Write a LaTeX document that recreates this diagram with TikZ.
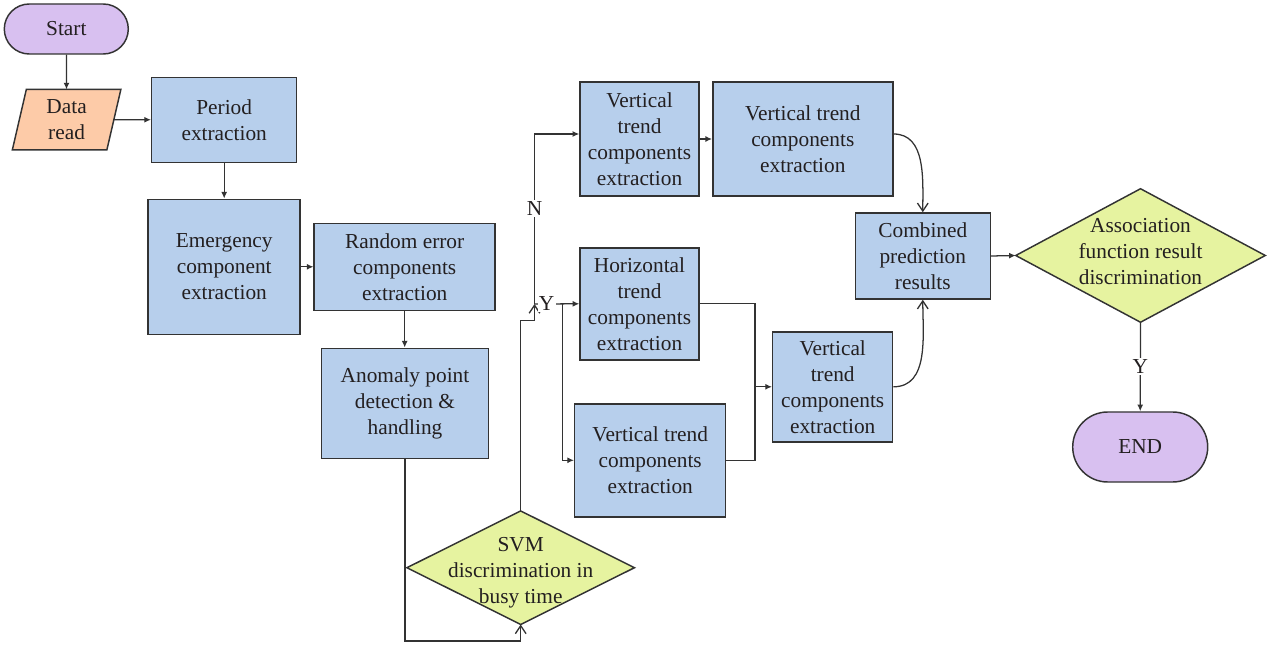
\documentclass[tikz,border=0pt]{standalone}
\usepackage{fontspec}
\setmainfont{Liberation Serif}
\usetikzlibrary{arrows.meta,backgrounds,calc}
\definecolor{boxblue}{HTML}{B7CFEC}
\definecolor{termpurple}{HTML}{D8C0F0}
\definecolor{ioorange}{HTML}{FDCBA8}
\definecolor{decyellow}{HTML}{E6F3A0}
\definecolor{linegray}{HTML}{333333}
\definecolor{textgray}{HTML}{231F20}
\tikzset{
  x=0.75pt, y=-0.75pt,
  sz/.style 2 args={minimum width=#1*0.75pt, minimum height=#2*0.75pt},
  txt/.style={inner sep=0pt, align=center, text=textgray, font=\fontsize{16}{19.5}\selectfont},
  pbox/.style={txt, draw=linegray, fill=boxblue, line width=1.1pt},
  term/.style={txt, draw=linegray, fill=termpurple, line width=1.1pt},
  plain/.style={txt},
  decshape/.style={draw=linegray, fill=decyellow, line width=1.1pt},
  ioshape/.style={draw=linegray, fill=ioorange, line width=1.1pt},
  conn/.style={draw=linegray, line width=0.95pt},
  tri/.style={conn, -{Latex[length=5pt,width=4.5pt]}},
  barb/.style={conn, -{Straight Barb[length=6pt,width=8pt,line width=1pt]}},
  lab/.style={fill=white, inner sep=1pt, text=textgray, font=\fontsize{16}{19.5}\selectfont},
}
\begin{document}
\begin{tikzpicture}
\useasboundingbox (0,0) rectangle (1267,648);

% nodes
\node[term, rounded corners=18.75pt, sz={124}{50}] (start) at (66.3,29) {Start};
\node[plain, sz={94}{60}] (data) at (66.6,119.7) {Data\\read};
\node[pbox, sz={145}{85}] (period) at (224.2,119.8) {Period\\extraction};
\node[pbox, sz={152}{135}] (emerg) at (224.2,266.8) {Emergency\\component\\extraction};
\node[pbox, sz={181}{87}] (rand) at (404.7,267.2) {Random error\\components\\extraction};
\node[pbox, sz={167}{110}] (anom) at (405,403.3) {Anomaly point\\detection \&\\handling};
\node[plain, sz={227}{113},
      label={[txt, yshift=-4pt]center:{SVM\\discrimination in\\busy time}}] (svm) at (520.7,567.7) {};
\node[pbox, sz={119}{114}] (v1) at (639.5,139) {Vertical\\trend\\components\\extraction};
\node[pbox, sz={180}{114}] (v2) at (802.8,139) {Vertical trend\\components\\extraction};
\node[pbox, sz={119}{112}] (hz) at (639.5,303.8) {Horizontal\\trend\\components\\extraction};
\node[pbox, sz={151}{113}] (vl) at (650.2,460.3) {Vertical trend\\components\\extraction};
\node[pbox, sz={120}{110}] (vr) at (832.7,386.8) {Vertical\\trend\\components\\extraction};
\node[pbox, sz={135}{86}] (comb) at (922.8,256) {Combined\\prediction\\results};
\node[plain, sz={249}{133},
      label={[txt, yshift=3pt]center:{Association\\function result\\discrimination}}] (assoc) at (1140.5,255.5) {};
\node[term, rounded corners=26.25pt, sz={135}{70}] (endn) at (1140.2,447) {END};

% shapes drawn behind texts
\begin{scope}[on background layer]
  \draw[ioshape] ($(data.north west)+(7,0)$) -- ($(data.north east)+(7,0)$)
     -- ($(data.south east)+(-7,0)$) -- ($(data.south west)+(-7,0)$) -- cycle;
  \draw[decshape] (svm.north) -- (svm.east) -- (svm.south) -- (svm.west) -- cycle;
  \draw[decshape] (assoc.north) -- (assoc.east) -- (assoc.south) -- (assoc.west) -- cycle;
\end{scope}

% helper coordinates
\coordinate (b1) at (462,641);
\coordinate (k1) at (527,320.3);
\coordinate (jct) at (534.5,304);
\coordinate (br) at (562.7,304);
\coordinate (mj) at (755,386.8);

% connectors
\draw[tri] (start) -- (data);
\draw[tri] (data) -- (period);
\draw[tri] (period) -- (emerg);
\draw[tri] (emerg.east) -- (rand.west |- emerg.east);
\draw[tri] (rand.south) -- (rand.south |- anom.north);
\draw[barb] (anom.south) |- (b1) -| (svm.south);
\draw[barb] (svm.north) |- (k1) -| (jct);
\draw[tri] (jct) |- node[lab, pos=0.28] {N} ($(v1.west)+(0,-5)$);
\draw[tri] (jct) -- node[lab, pos=0.27] {Y} (hz.west);
\draw[tri] (br) |- (vl.west);
\draw[tri] (v1) -- (v2);
\draw[conn] (hz.east) -| (mj);
\draw[conn] (vl.east) -| (mj);
\draw[tri] (mj) -- (vr.west);
\draw[barb] ($(v2.east)+(0,-5)$) to[out=0, in=90] (comb.north);
\draw[barb] (vr.east) to[out=0, in=-90] (comb.south);
\draw[tri] (comb.east) -- (assoc.west);
\draw[tri] (assoc.south) -- node[lab] {Y} (endn.north);
\end{tikzpicture}
\end{document}
